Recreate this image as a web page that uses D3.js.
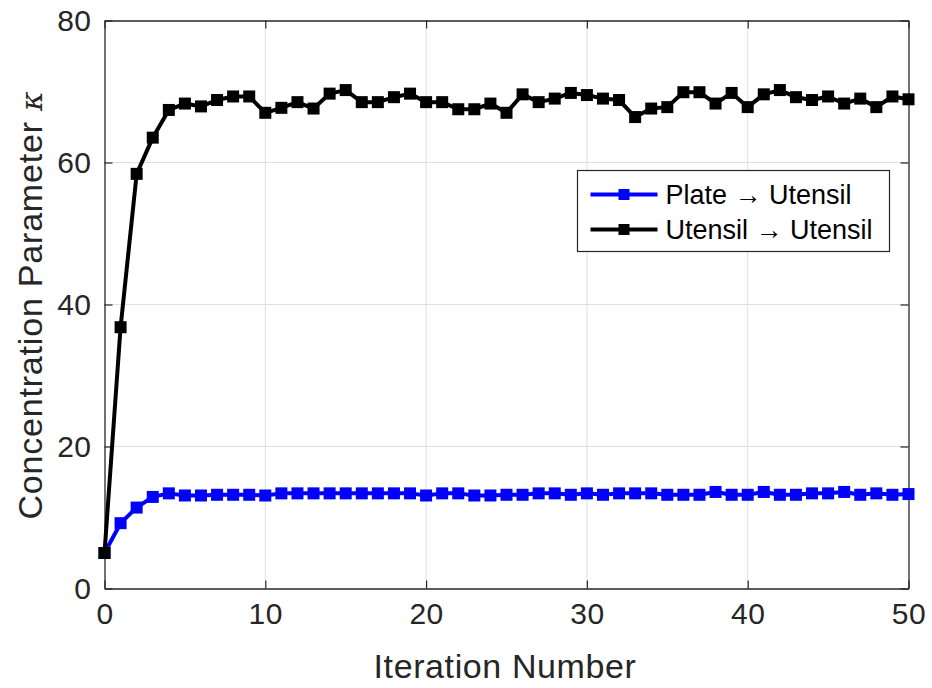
<!DOCTYPE html>
<html>
<head>
<meta charset="utf-8">
<script src="https://cdn.jsdelivr.net/npm/d3@7"></script>
<style>
  body { margin: 0; background: #fff; }
  svg { display: block; font-family: "Liberation Sans", Arial, sans-serif; }
</style>
</head>
<body>
<svg id="chart" width="932" height="688"></svg>
<script>
// iterations 0..50
const iterations = d3.range(0, 51);

const plateToUtensil = [
  5.0, 9.2, 11.4, 12.9, 13.4, 13.1, 13.1, 13.2, 13.2, 13.2,
  13.1, 13.4, 13.4, 13.4, 13.4, 13.4, 13.4, 13.4, 13.4, 13.4,
  13.1, 13.4, 13.4, 13.1, 13.1, 13.2, 13.2, 13.4, 13.4, 13.2,
  13.4, 13.2, 13.4, 13.4, 13.4, 13.2, 13.2, 13.2, 13.6, 13.2,
  13.2, 13.6, 13.2, 13.2, 13.4, 13.4, 13.6, 13.2, 13.4, 13.2,
  13.3
];

const utensilToUtensil = [
  5.0, 36.8, 58.4, 63.5, 67.4, 68.3, 67.9, 68.8, 69.3, 69.3,
  67.0, 67.7, 68.5, 67.6, 69.7, 70.2, 68.5, 68.5, 69.2, 69.7,
  68.5, 68.5, 67.5, 67.5, 68.3, 67.0, 69.6, 68.5, 69.0, 69.8,
  69.5, 69.0, 68.8, 66.4, 67.6, 67.8, 69.9, 69.9, 68.3, 69.8,
  67.8, 69.6, 70.2, 69.2, 68.8, 69.3, 68.3, 69.0, 67.8, 69.3,
  68.9
];

const xTicks = [0, 10, 20, 30, 40, 50];
const yTicks = [0, 20, 40, 60, 80];

const series = [
  { name: 'Plate \u2192 Utensil', color: '#0000ff', values: plateToUtensil },
  { name: 'Utensil \u2192 Utensil', color: '#000000', values: utensilToUtensil }
];

const margin = { top: 20.5, right: 23.5, bottom: 100, left: 104.5 };
const width = 932, height = 688;
const innerW = width - margin.left - margin.right;
const innerH = 588.5 - margin.top;

const svg = d3.select('#chart');
const g = svg.append('g').attr('transform', `translate(${margin.left},${margin.top})`);

const x = d3.scaleLinear().domain([0, 50]).range([0, innerW]);
const y = d3.scaleLinear().domain([0, 80]).range([innerH, 0]);

const axisColor = '#262626';

// grid
g.append('g').selectAll('line.vx')
  .data(xTicks.slice(1, -1))
  .join('line')
  .attr('x1', d => x(d)).attr('x2', d => x(d))
  .attr('y1', 0).attr('y2', innerH)
  .attr('stroke', '#dfdfdf').attr('stroke-width', 1);

g.append('g').selectAll('line.hy')
  .data(yTicks.slice(1, -1))
  .join('line')
  .attr('x1', 0).attr('x2', innerW)
  .attr('y1', d => y(d)).attr('y2', d => y(d))
  .attr('stroke', '#dfdfdf').attr('stroke-width', 1);

// axes
const xAxis = g.append('g')
  .attr('transform', `translate(0,${innerH})`)
  .call(d3.axisBottom(x).tickValues(xTicks).tickSizeInner(-8).tickSizeOuter(0).tickPadding(14));
const yAxis = g.append('g')
  .call(d3.axisLeft(y).tickValues(yTicks).tickSizeInner(-8).tickSizeOuter(0).tickPadding(13));

// top and right box lines with ticks
const xTop = g.append('g')
  .call(d3.axisTop(x).tickValues(xTicks).tickSizeInner(-8).tickSizeOuter(0).tickFormat(''));
const yRight = g.append('g')
  .attr('transform', `translate(${innerW},0)`)
  .call(d3.axisRight(y).tickValues(yTicks).tickSizeInner(-8).tickSizeOuter(0).tickFormat(''));

[xAxis, yAxis, xTop, yRight].forEach(a => {
  a.select('.domain').attr('stroke', axisColor).attr('stroke-width', 1.3);
  a.selectAll('.tick line').attr('stroke', axisColor).attr('stroke-width', 1.2);
  a.selectAll('.tick text')
    .attr('fill', axisColor)
    .style('font-size', '30px')
    .style('letter-spacing', '0.5px')
    .style('font-family', '"Liberation Sans", Arial, sans-serif');
});

// lines and markers
const line = d3.line()
  .x((d, i) => x(iterations[i]))
  .y(d => y(d));

const markerSize = 12;

series.forEach(s => {
  g.append('path')
    .datum(s.values)
    .attr('fill', 'none')
    .attr('stroke', s.color)
    .attr('stroke-width', 4)
    .attr('stroke-linejoin', 'round')
    .attr('d', line);

  g.append('g').selectAll('rect')
    .data(s.values)
    .join('rect')
    .attr('x', (d, i) => x(iterations[i]) - markerSize / 2)
    .attr('y', d => y(d) - markerSize / 2)
    .attr('width', markerSize)
    .attr('height', markerSize)
    .attr('fill', s.color);
});

// axis labels
svg.append('text')
  .attr('x', 505)
  .attr('y', 678)
  .attr('text-anchor', 'middle')
  .attr('fill', axisColor)
  .style('font-size', '34px')
  .style('letter-spacing', '0.6px')
  .text('Iteration Number');

const yl = svg.append('text')
  .attr('transform', `translate(42,305) rotate(-90)`)
  .attr('text-anchor', 'middle')
  .attr('fill', axisColor)
  .style('font-size', '34px')
  .style('letter-spacing', '0.8px');
yl.append('tspan').text('Concentration Parameter ');
yl.append('tspan').attr('font-style', 'italic').attr('font-family', '"DejaVu Serif", serif').style('font-size', '30px').text('\u03BA');

// legend
const legend = svg.append('g').attr('transform', 'translate(577.5,170.5)');
legend.append('rect')
  .attr('width', 312).attr('height', 81)
  .attr('fill', '#fff')
  .attr('stroke', axisColor).attr('stroke-width', 1.2);

series.forEach((s, i) => {
  const row = legend.append('g').attr('transform', `translate(0,${24 + i * 35})`);
  row.append('line')
    .attr('x1', 13).attr('x2', 80)
    .attr('stroke', s.color).attr('stroke-width', 4);
  row.append('rect')
    .attr('x', 46.5 - 5.5).attr('y', -5.5)
    .attr('width', 11).attr('height', 11)
    .attr('fill', s.color);
  row.append('text')
    .attr('x', 88).attr('dy', '0.35em')
    .attr('fill', '#000')
    .style('font-size', '27px')
    .text(s.name);
});
</script>
</body>
</html>
